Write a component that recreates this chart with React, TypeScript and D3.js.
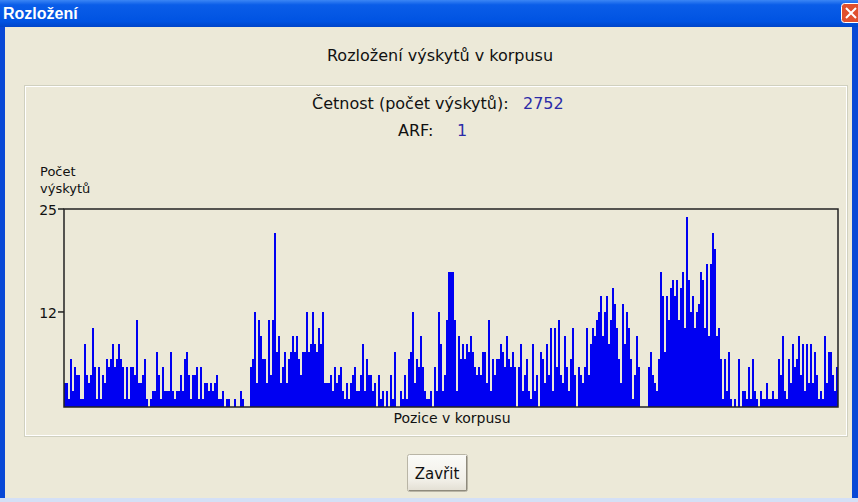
import React from 'react';
import * as d3 from 'd3';

// počet výskytů v jednotlivých úsecích korpusu, zleva doprava
const part1 = [3,3,1,6,2,5,4,4,1,1, 8,4,3,4,10,5,1,5,1,4, 3,6,5,6,8,5,6,8,6,5, 1,5,1,5,5,4,11,3,3,4, 6,1,0,1,2,2,7,4,1,5, 2,2,2,7,2,1,2,2,4,2, 6,7,4,1,4,4,5,1,5,1, 3,3,2,3,2,3,4];
const part2 = [1,1,2,0,1,1,0,0,1,0, 0,2,1,0,0,0,5,6,12,3, 11,9,6,6,3,11,4,11,22,7, 9,3,5,7,3,6,7,9,7,9, 6,4,7,7,12,7,8,12,8,7, 10,8,12,3,3,3,4,2,5,3, 4,5,2,1,3,1,3,4,5,2, 2,4,8,2,6,4,4];
const part3 = [2,3,0,4,1,2,0,2,0,4, 1,7,0,0,2,1,4,1,6,7, 12,3,6,5,9,5,2,1,1,2, 0,5,2,12,8,2,4,11,17,17, 17,11,2,9,6,8,6,8,7,9, 7,5,4,5,4,7,7,3,11,2, 6,4,6,6,8,7,5,9,6,5, 7,5,0,5,8,2];
const part4 = [4,6,2,1,8,2,4,0,7,6, 3,8,4,10,2,10,5,11,4,3, 9,5,2,6,10,4,0,5,4,3, 5,10,4,8,10,9,11,12,14,9, 12,14,8,11,15,13,10,6,3,13, 8,12,10,6,1,4,9,5,0,0, 0,0,5,7,4,3,2,6,17,14, 7,14,11,15,16,14];
const part5 = [16,11,15,17,10,24,16,12,14,10, 12,13,17,16,10,18,9,18,22,20, 9,10,6,1,6,2,7,1,0,1, 0,6,0,2,2,1,5,1,6,2, 1,0,2,1,1,3,1,1,2,1, 1,6,4,9,2,1,6,3,8,5, 6,9,4,8,2,8,3,8,3,7, 4,1,2,1,9,3,7,7,4,2,5];
const counts = [...part1, ...part2, ...part3, ...part4, ...part5];

const yTicks = [12, 25];
const yMax = 25;
const frequency = '2752';
const arf = '1';

const W = 858;
const H = 502;
const plot = { left: 64, right: 838, top: 209, bottom: 407 };
const font = '"DejaVu Sans", sans-serif';

export default function App() {
  const x = d3.scaleBand<number>()
    .domain(d3.range(counts.length))
    .range([plot.left, plot.right])
    .padding(0);
  const y = d3.scaleLinear().domain([0, yMax]).range([plot.bottom, plot.top]);

  return (
    <svg width={W} height={H} style={{ position: 'absolute', left: 0, top: 0 }} fontFamily={font}>
      <defs>
        <linearGradient id="titleBar" x1="0" y1="0" x2="0" y2="1">
          <stop offset="0" stopColor="#3b86f5" />
          <stop offset="0.18" stopColor="#0a5de8" />
          <stop offset="0.8" stopColor="#0053e2" />
          <stop offset="1" stopColor="#0045c9" />
        </linearGradient>
        <linearGradient id="btn" x1="0" y1="0" x2="0" y2="1">
          <stop offset="0" stopColor="#fbfbf8" />
          <stop offset="0.7" stopColor="#f1efe7" />
          <stop offset="1" stopColor="#e2ded2" />
        </linearGradient>
      </defs>

      {/* okno */}
      <rect x={0} y={0} width={W} height={H} fill="#ece9d8" />
      <rect x={0} y={0} width={W} height={27} fill="url(#titleBar)" />
      <rect x={0} y={27} width={5} height={H - 27} fill="#0848d6" />
      <rect x={W - 6} y={27} width={6} height={H - 27} fill="#0848d6" />
      <rect x={0} y={H - 4} width={W} height={4} fill="#d4e0f6" />
      <text x={3} y={19} fill="#fff" fontWeight="bold" fontSize={16} fontFamily='"Liberation Sans", sans-serif'>Rozložení</text>
      <rect x={841.5} y={3.5} width={20} height={19} rx={3} fill="#e0502e" stroke="#fff" />
      <path d="M846,8 L856,18 M856,8 L846,18" stroke="#fff" strokeWidth={2} />

      <text x={440} y={61} textAnchor="middle" fontSize={16} fill="#111">Rozložení výskytů v korpusu</text>

      {/* rámeček skupiny */}
      <rect x={24.5} y={85.5} width={823} height={351} fill="none" stroke="#d0d0bf" />
      <rect x={25.5} y={86.5} width={821} height={349} fill="none" stroke="#fff" />

      <text x={312} y={109} fontSize={16} fill="#111">Četnost (počet výskytů):</text>
      <text x={523} y={109} fontSize={16} fill="#2b2ba8">{frequency}</text>
      <text x={398} y={136} fontSize={16} fill="#111">ARF:</text>
      <text x={457} y={136} fontSize={16} fill="#2b2ba8">{arf}</text>

      <text x={40} y={176} fontSize={13} fill="#111">Počet</text>
      <text x={40} y={193} fontSize={13} fill="#111">výskytů</text>

      {/* sloupce */}
      <g shapeRendering="crispEdges">
        {counts.map((v, i) => v > 0 && (
          <rect key={i} x={x(i)} y={y(v)} width={x.bandwidth()} height={plot.bottom - y(v)} fill="#0000f2" />
        ))}
      </g>

      {/* osy a rámeček grafu */}
      <g stroke="#222" strokeWidth={1.5} fill="none">
        <path d={`M${plot.left},${plot.top} H${plot.right} V${plot.bottom} H${plot.left} Z`} />
        {yTicks.map(t => (
          <line key={t} x1={plot.left - 6} x2={plot.left} y1={y(t)} y2={y(t)} />
        ))}
      </g>
      {yTicks.map(t => (
        <text key={t} x={57} y={y(t) + 6} textAnchor="end" fontSize={14} fill="#111">{t}</text>
      ))}

      <text x={452} y={423} textAnchor="middle" fontSize={14} fill="#111">Pozice v korpusu</text>

      {/* tlačítko */}
      <rect x={407.5} y={454.5} width={60} height={37} rx={2} fill="url(#btn)" stroke="#b9b5a6" />
      <path d="M466.5,456 V490.5 H409" stroke="#8e8a7c" fill="none" />
      <text x={437} y={479} textAnchor="middle" fontSize={15} fill="#111">Zavřit</text>
    </svg>
  );
}
